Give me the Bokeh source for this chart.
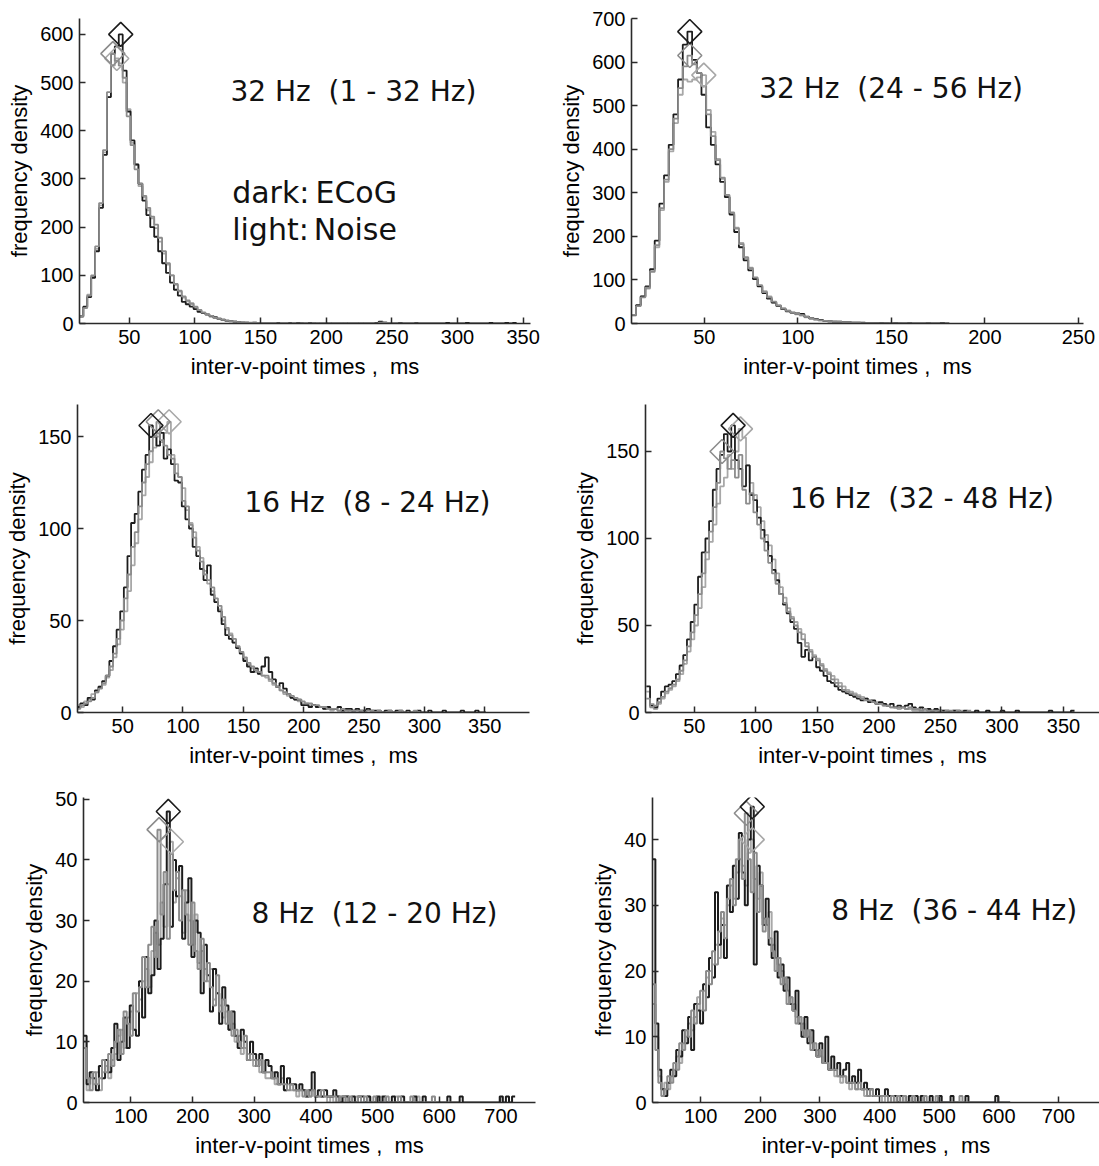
import numpy as np
from bokeh.plotting import figure
from bokeh.models import Range1d, FixedTicker, Label
from bokeh.layouts import column, row
from bokeh.embed import file_html
from bokeh.resources import INLINE

# ------------------------------------------------------------------ data
# Panel 1: 32 Hz (1 - 32 Hz); bins start 12 ms, width 3 ms
p1_start, p1_width = 12.0, 3.0
p1_dark = [15, 35, 55, 95, 150, 240, 350, 470, 560, 575,
           600, 525, 440, 380, 330, 290, 255, 225, 200, 180,
           150, 125, 105, 85, 70, 58, 45, 40, 35, 30,
           24, 22, 19, 16, 13, 10, 8, 6, 5, 4,
           3, 2, 2, 1, 2, 1, 1, 1, 0, 1,
           1, 0, 1, 1, 0, 1, 0, 0, 1, 0,
           1, 0, 0, 1, 0, 0, 0, 1, 0, 0,
           0, 1, 0, 0, 0, 1, 4, 1, 0, 0,
           0, 1, 0, 0, 0, 1, 0, 0, 0, 0,
           0, 0, 0, 1, 0, 0, 0, 0, 1, 0,
           0, 0, 0, 0, 1, 0, 0, 0, 1, 0, 1]
p1_light1 = [15, 32, 58, 100, 160, 250, 360, 480, 560, 545,
             535, 510, 430, 370, 320, 290, 265, 240, 222, 205,
             178, 150, 125, 100, 82, 68, 56, 48, 41, 35,
             28, 23, 19, 16, 12, 10, 8, 6, 5, 4,
             3, 3, 2, 2, 2, 1, 1, 1, 1, 1,
             0, 1, 1, 0, 1, 0, 0, 1, 0, 0,
             1, 0, 0, 1, 0, 0, 0, 1, 0, 0,
             0, 1, 0, 0, 0, 0, 2, 3, 1, 0,
             0, 0, 0, 0, 1, 0, 0, 0]
p1_light2 = [14, 34, 60, 98, 155, 245, 355, 470, 535, 550,
             540, 500, 445, 375, 330, 285, 262, 235, 218, 198,
             170, 145, 122, 100, 80, 66, 54, 46, 42, 34,
             28, 22, 18, 14, 11, 9, 7, 5, 4, 4,
             3, 2, 2, 1, 1, 1, 0, 1, 1, 0,
             1, 0, 0, 1, 0, 0, 1, 0, 0, 0]

# Panel 2: 32 Hz (24 - 56 Hz); bins start 11 ms, width 2.5 ms
p2_start, p2_width = 11.0, 2.5
p2_dark = [20, 42, 62, 85, 125, 190, 275, 340, 410, 480,
           560, 640, 670, 605, 575, 525, 450, 410, 365, 325,
           290, 250, 210, 175, 145, 122, 102, 85, 70, 57,
           48, 40, 33, 28, 25, 23, 22, 16, 12, 10,
           8, 6, 5, 4, 4, 3, 3, 2, 2, 2,
           1, 1, 1, 1, 1, 0, 1, 0, 0, 1,
           0, 0, 0, 1, 0, 0, 1, 0]
p2_light1 = [20, 40, 60, 82, 120, 180, 265, 330, 400, 470,
             540, 590, 615, 595, 575, 545, 480, 430, 375, 335,
             295, 255, 218, 182, 152, 127, 106, 88, 72, 60,
             50, 41, 34, 29, 25, 22, 19, 15, 12, 9,
             7, 6, 5, 4, 4, 3, 3, 2, 2, 1,
             1, 1, 1, 0, 1, 1, 0, 0, 1, 0,
             0, 1, 0, 0, 0, 0]
p2_light2 = [18, 40, 62, 80, 118, 175, 260, 325, 395, 460,
             525, 560, 555, 560, 565, 570, 490, 440, 378, 332,
             292, 252, 220, 185, 150, 128, 104, 86, 74, 62,
             48, 42, 35, 30, 24, 21, 18, 14, 11, 9,
             7, 6, 5, 4, 3, 3, 2, 2, 2, 1,
             1, 0, 1, 1, 0, 1, 0, 0, 0, 1]

# Panel 3: 16 Hz (8 - 24 Hz); bins start 12 ms, width 3 ms
p3_start, p3_width = 12.0, 3.0
p3_dark = [3, 5, 4, 8, 7, 12, 14, 17, 20, 28,
           36, 45, 55, 68, 85, 103, 108, 120, 132, 140,
           156, 150, 145, 152, 138, 143, 135, 126, 125, 112,
           105, 100, 90, 85, 78, 72, 80, 64, 60, 55,
           48, 42, 40, 38, 35, 32, 28, 25, 22, 24,
           21, 25, 30, 22, 18, 14, 16, 13, 10, 8,
           7, 7, 4, 4, 3, 4, 3, 3, 2, 3,
           2, 2, 3, 1, 2, 2, 1, 2, 1, 1,
           2, 1, 1, 1, 0, 1, 1, 0, 1, 1,
           0, 1, 0, 0, 1, 0, 0, 1, 0, 0,
           0, 1, 0, 0, 0, 0, 1, 0, 0, 0,
           1, 0, 0]
p3_light1 = [2, 4, 5, 6, 8, 11, 13, 16, 20, 25,
             32, 40, 50, 62, 75, 90, 98, 112, 125, 135,
             142, 150, 158, 148, 145, 140, 138, 130, 128, 115,
             112, 102, 95, 88, 82, 75, 72, 68, 62, 58,
             52, 46, 42, 40, 36, 33, 30, 27, 25, 23,
             22, 20, 20, 18, 16, 14, 12, 11, 10, 9,
             8, 7, 6, 5, 5, 4, 4, 3, 3, 2,
             2, 2, 1, 2, 1, 1, 1, 1, 1, 0,
             1, 1, 0, 1, 0, 0, 1, 0, 0, 1,
             0, 0, 0, 1, 0, 0, 0]
p3_light2 = [4, 3, 6, 7, 10, 11, 14, 15, 19, 23,
             30, 37, 45, 55, 66, 80, 92, 105, 118, 128,
             136, 144, 150, 147, 152, 158, 140, 135, 128, 122,
             110, 103, 98, 90, 84, 77, 70, 66, 60, 56,
             50, 45, 43, 38, 35, 33, 29, 26, 24, 22,
             21, 20, 19, 17, 15, 14, 12, 10, 9, 8,
             7, 6, 5, 5, 4, 4, 3, 3, 2, 2,
             1, 2, 1, 1, 1, 0, 1, 1, 0, 1]

# Panel 4: 16 Hz (32 - 48 Hz); bins start 11 ms, width 3 ms
p4_start, p4_width = 11.0, 3.0
p4_dark = [15, 4, 3, 8, 12, 15, 16, 18, 22, 27,
           33, 42, 52, 62, 78, 92, 100, 110, 128, 140,
           148, 160, 150, 165, 145, 140, 130, 142, 125, 122,
           112, 105, 98, 90, 82, 76, 68, 62, 57, 52,
           48, 40, 32, 36, 30, 32, 26, 24, 21, 18,
           17, 15, 13, 12, 11, 10, 9, 8, 7, 8,
           6, 7, 5, 6, 5, 4, 5, 3, 4, 3,
           4, 5, 3, 2, 3, 2, 2, 1, 2, 1,
           1, 1, 0, 1, 1, 0, 1, 0, 0, 1,
           0, 0, 1, 0, 0, 0, 1, 0, 0, 0,
           1, 0, 0, 0, 0, 0, 0, 0, 0, 1,
           0, 0, 0, 0, 0, 1]
p4_light1 = [8, 3, 4, 6, 9, 12, 14, 16, 19, 24,
             30, 38, 46, 56, 68, 80, 92, 104, 118, 132,
             150, 146, 140, 145, 135, 148, 128, 120, 126, 115,
             108, 100, 93, 86, 80, 74, 68, 63, 58, 54,
             50, 46, 42, 38, 35, 32, 30, 27, 24, 22,
             19, 17, 15, 13, 12, 11, 10, 9, 8, 7,
             7, 6, 5, 5, 4, 4, 3, 3, 3, 3,
             2, 3, 2, 2, 1, 2, 1, 1, 1, 1,
             0, 1, 1, 0, 1, 0, 0, 1]
p4_light2 = [12, 5, 2, 5, 8, 11, 13, 15, 18, 22,
             28, 35, 42, 50, 60, 72, 88, 98, 108, 120,
             130, 135, 148, 140, 150, 163, 158, 142, 132, 125,
             118, 110, 102, 96, 88, 80, 72, 66, 60, 55,
             52, 48, 45, 40, 36, 33, 31, 28, 25, 23,
             21, 19, 17, 15, 13, 12, 11, 10, 9, 8,
             7, 6, 6, 5, 4, 4, 3, 3, 2, 3,
             2, 2, 1, 1, 2, 1, 1, 1, 0, 1,
             1, 0, 0, 1, 0, 1, 0]

# Panel 5: 8 Hz (12 - 20 Hz); bins start 23 ms, width 5 ms
p5_start, p5_width = 23.0, 5.0
p5_dark = [11, 3, 5, 4, 2, 6, 4, 7, 5, 9,
           13, 7, 10, 14, 9, 16, 12, 11, 20, 14,
           24, 18, 21, 30, 22, 27, 36, 48, 29, 40,
           34, 39, 27, 33, 37, 24, 30, 28, 18, 26,
           21, 15, 22, 18, 13, 19, 16, 12, 15, 11,
           9, 12, 10, 7, 10, 8, 6, 8, 5, 7,
           6, 4, 5, 3, 6, 2, 4, 3, 3, 2,
           3, 2, 1, 2, 5, 1, 2, 1, 2, 1,
           1, 2, 1, 0, 1, 1, 0, 1, 0, 1,
           1, 0, 1, 0, 0, 1, 0, 1, 0, 0,
           1, 0, 0, 1, 0, 0, 0, 1, 0, 0,
           1, 0, 0, 0, 0, 0, 0, 0, 1, 0,
           0, 0, 1, 0, 0, 0, 0, 0, 0, 0,
           0, 0, 0, 0, 0, 1, 0, 1, 0, 1]
p5_light1 = [9, 4, 2, 5, 3, 4, 7, 5, 8, 6,
             10, 12, 8, 15, 13, 11, 18, 15, 19, 24,
             19, 26, 29, 24, 45, 31, 38, 27, 41, 35,
             38, 30, 35, 31, 26, 33, 25, 22, 27, 20,
             23, 19, 16, 21, 15, 17, 13, 15, 11, 12,
             10, 9, 11, 7, 8, 7, 6, 7, 5, 5,
             5, 4, 4, 3, 3, 3, 2, 3, 2, 2,
             2, 1, 2, 1, 2, 1, 1, 2, 1, 1,
             1, 1, 0, 1, 1, 0, 1, 0, 0, 1,
             0, 1, 0, 0, 1, 0, 0, 0, 1, 0,
             0, 0, 1, 0, 0, 0, 1, 0, 0, 0,
             0, 0, 0, 1, 0, 0, 0, 0, 0, 0]
p5_light2 = [10, 2, 4, 3, 5, 2, 5, 6, 4, 7,
             8, 11, 12, 9, 14, 15, 12, 18, 17, 20,
             22, 19, 25, 28, 26, 33, 29, 36, 43, 33,
             37, 34, 28, 35, 30, 26, 31, 23, 25, 22,
             20, 22, 17, 18, 16, 14, 15, 12, 13, 10,
             11, 8, 9, 8, 7, 6, 7, 5, 5, 4,
             4, 5, 3, 3, 4, 2, 3, 2, 2, 1,
             2, 2, 1, 1, 2, 1, 1, 1, 1, 0,
             1, 0, 1, 1, 0, 1, 0, 0, 1, 0,
             0, 0, 1, 0, 0, 0, 1, 0, 0, 0,
             0, 1, 0, 0, 0, 0, 0, 0, 1, 0]

# Panel 6: 8 Hz (36 - 44 Hz); bins start 19 ms, width 5 ms
p6_start, p6_width = 19.0, 5.0
p6_dark = [37, 12, 5, 2, 1, 3, 5, 4, 8, 7,
           11, 9, 13, 8, 15, 14, 12, 18, 16, 22,
           19, 32, 24, 27, 22, 33, 29, 36, 31, 41,
           35, 30, 40, 45, 21, 36, 33, 27, 31, 24,
           22, 26, 19, 21, 17, 19, 15, 14, 17, 12,
           10, 13, 9, 11, 8, 7, 9, 6, 10, 5,
           7, 5, 6, 4, 5, 6, 3, 4, 3, 5,
           2, 3, 2, 2, 1, 2, 1, 1, 2, 1,
           1, 1, 0, 1, 1, 0, 1, 0, 1, 0,
           1, 0, 0, 1, 0, 0, 1, 0, 0, 0,
           1, 0, 0, 0, 0, 1, 0, 0, 0, 0,
           0, 0, 0, 0, 0, 1, 0, 0, 0, 0]
p6_light1 = [18, 8, 3, 1, 2, 4, 3, 6, 5, 9,
             8, 11, 10, 14, 12, 15, 17, 14, 20, 18,
             23, 21, 26, 29, 25, 31, 34, 30, 37, 40,
             34, 44, 37, 32, 38, 29, 33, 26, 28, 25,
             23, 20, 22, 18, 19, 15, 16, 14, 12, 13,
             11, 10, 11, 8, 9, 7, 8, 6, 6, 5,
             5, 5, 4, 4, 4, 3, 3, 3, 2, 3,
             2, 2, 1, 2, 1, 1, 1, 1, 1, 0,
             1, 0, 1, 0, 1, 0, 0, 1, 0, 0,
             0, 1, 0, 0, 0, 1, 0, 0, 0, 0,
             0, 0, 0, 1, 0, 0, 0, 0, 0, 0]
p6_light2 = [15, 10, 4, 2, 3, 2, 4, 5, 7, 6,
             9, 10, 12, 11, 13, 16, 14, 17, 19, 20,
             21, 24, 22, 28, 27, 30, 33, 31, 35, 37,
             36, 33, 38, 40, 34, 31, 35, 28, 27, 29,
             24, 22, 21, 20, 18, 17, 16, 15, 13, 13,
             12, 10, 10, 9, 8, 8, 7, 6, 6, 5,
             5, 4, 4, 3, 4, 3, 2, 3, 2, 2,
             2, 1, 2, 1, 1, 1, 1, 0, 1, 1,
             0, 1, 0, 1, 0, 0, 1, 0, 0, 0,
             1, 0, 0, 0, 0, 0, 1, 0, 0, 0]

# titles / ticks / labels
NB = "\u00a0"
titles = ["32 Hz" + NB + " (1 - 32 Hz)", "32 Hz" + NB + " (24 - 56 Hz)",
          "16 Hz" + NB + " (8 - 24 Hz)", "16 Hz" + NB + " (32 - 48 Hz)",
          "8 Hz" + NB + " (12 - 20 Hz)", "8 Hz" + NB + " (36 - 44 Hz)"]
legend_words = [("dark:", "ECoG"), ("light:", "Noise")]
x_ticks = [[50, 100, 150, 200, 250, 300, 350], [50, 100, 150, 200, 250],
           [50, 100, 150, 200, 250, 300, 350], [50, 100, 150, 200, 250, 300, 350],
           [100, 200, 300, 400, 500, 600, 700], [100, 200, 300, 400, 500, 600, 700]]
y_ticks = [[0, 100, 200, 300, 400, 500, 600], [0, 100, 200, 300, 400, 500, 600, 700],
           [0, 50, 100, 150], [0, 50, 100, 150],
           [0, 10, 20, 30, 40, 50], [0, 10, 20, 30, 40]]
x_label = "inter-v-point times ," + NB + " ms"
y_label = "frequency density"

# ------------------------------------------------------------------ style
DARK = "#1c1c1c"
LIGHT1 = "#8c8c8c"
LIGHT2 = "#a8a8a8"
AX = "#2a2a2a"
TICK_FONT = "Liberation Sans"
TITLE_FONT = "DejaVu Sans"

# layout per panel: figure size, borders, ranges, title anchor (data units)
layout_cfg = [
    dict(w=550, h=388, l=79, r=20, t=18, b=65, xr=(12.1, 355.6), yr=(0, 633), tp=(127.1, 481.6), lw=1.8),
    dict(w=549, h=388, l=81, r=16, t=18, b=65, xr=(11.1, 252.7), yr=(0, 700), tp=(79.4, 539.4), lw=1.8),
    dict(w=550, h=388, l=77, r=21, t=16, b=64, xr=(12.6, 387.1), yr=(0, 167.4), tp=(150.9, 114.1), lw=1.8),
    dict(w=549, h=388, l=95, r=0, t=16, b=64, xr=(10.3, 379.3), yr=(0, 177), tp=(127.8, 123.0), lw=1.8),
    dict(w=550, h=389, l=83, r=15, t=21, b=63, xr=(23.0, 756.0), yr=(0, 50.3), tp=(295.3, 31.2), lw=2.0),
    dict(w=549, h=389, l=102, r=0, t=21, b=63, xr=(19.2, 768.8), yr=(0, 46.4), tp=(318.9, 29.2), lw=2.0),
]
legend_pos = [(128.4, 271.3, 191.8), (128.4, 195.1, 190.5)]

series = [
    (p1_start, p1_width, p1_dark, p1_light1, p1_light2),
    (p2_start, p2_width, p2_dark, p2_light1, p2_light2),
    (p3_start, p3_width, p3_dark, p3_light1, p3_light2),
    (p4_start, p4_width, p4_dark, p4_light1, p4_light2),
    (p5_start, p5_width, p5_dark, p5_light1, p5_light2),
    (p6_start, p6_width, p6_dark, p6_light1, p6_light2),
]


def make_panel(k):
    c = layout_cfg[k]
    start, width, dark, l1, l2 = series[k]
    p = figure(width=c["w"], height=c["h"], x_range=Range1d(*c["xr"]),
               y_range=Range1d(*c["yr"]), output_backend="svg",
               toolbar_location=None, tools="",
               min_border_left=c["l"], min_border_right=c["r"],
               min_border_top=c["t"], min_border_bottom=c["b"])
    p.outline_line_color = None
    p.xgrid.visible = False
    p.ygrid.visible = False
    p.background_fill_color = "white"
    p.border_fill_color = "white"

    for vals, col in [(l2, LIGHT2), (dark, DARK), (l1, LIGHT1)]:
        v = np.asarray(vals, dtype=float)
        edges = start + width * np.arange(len(v) + 1)
        p.step(edges, np.append(v, v[-1]), mode="after", line_color=col,
               line_width=c["lw"])
    for vals, col in [(l2, LIGHT2), (l1, LIGHT1), (dark, DARK)]:
        v = np.asarray(vals, dtype=float)
        i = int(np.argmax(v))
        p.scatter([start + width * (i + 0.5)], [v[i]], marker="square",
                  angle=np.pi / 4, size=17, fill_color=None, line_color=col,
                  line_width=1.6)

    p.xaxis.ticker = FixedTicker(ticks=x_ticks[k])
    p.yaxis.ticker = FixedTicker(ticks=y_ticks[k])
    p.xaxis.axis_label = x_label
    p.yaxis.axis_label = y_label
    for ax in (p.xaxis[0], p.yaxis[0]):
        ax.major_tick_in = 6
        ax.major_tick_out = 0
        ax.minor_tick_line_color = None
        ax.axis_line_color = AX
        ax.axis_line_width = 1.6
        ax.major_tick_line_color = AX
        ax.major_tick_line_width = 1.5
        ax.major_label_text_font = TICK_FONT
        ax.major_label_text_font_size = "20px"
        ax.major_label_text_color = "#000000"
        ax.axis_label_text_font = TICK_FONT
        ax.axis_label_text_font_size = "22px"
        ax.axis_label_text_font_style = "normal"
        ax.axis_label_text_color = "#000000"
    p.xaxis[0].major_label_standoff = 6
    p.xaxis[0].axis_label_standoff = 7
    p.yaxis[0].major_label_standoff = 6
    p.yaxis[0].axis_label_standoff = 5

    tx, ty = c["tp"]
    p.add_layout(Label(x=tx, y=ty, text=titles[k], text_font=TITLE_FONT,
                       text_font_size="28px", text_baseline="alphabetic",
                       text_align="left", text_color="#111111"))
    if k == 0:
        for (w1, w2), (xa, yb, xb) in zip(legend_words, legend_pos):
            p.add_layout(Label(x=xa, y=yb, text=w1, text_font=TITLE_FONT,
                               text_font_size="30px", text_baseline="alphabetic",
                               text_align="left", text_color="#111111"))
            p.add_layout(Label(x=xb, y=yb, text=w2, text_font=TITLE_FONT,
                               text_font_size="30px", text_baseline="alphabetic",
                               text_align="left", text_color="#111111"))
    return p


panels = [make_panel(k) for k in range(6)]
lay = column(row(panels[0], panels[1]), row(panels[2], panels[3]),
             row(panels[4], panels[5]))

open("out.html", "w").write(file_html(lay, INLINE))
